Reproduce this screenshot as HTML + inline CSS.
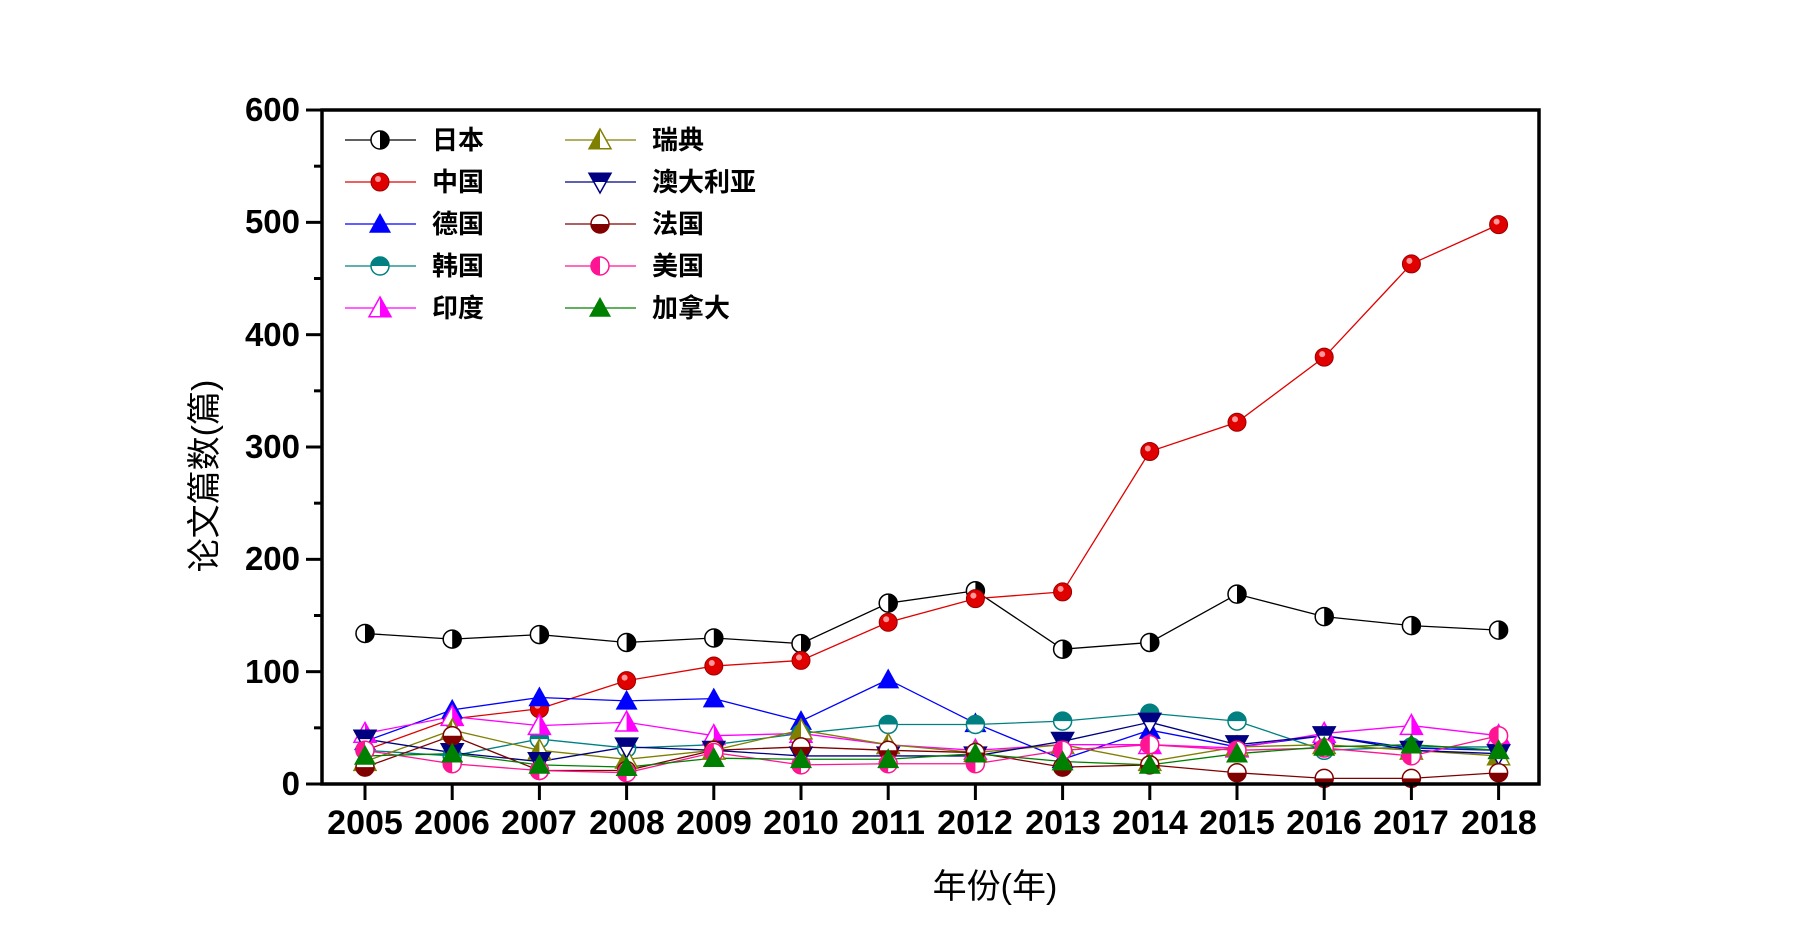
<!DOCTYPE html>
<html><head><meta charset="utf-8"><style>
html,body{margin:0;padding:0;background:#fff;width:1800px;height:945px;overflow:hidden}
svg text{font-family:"Liberation Sans","Noto Sans CJK SC",sans-serif}
</style></head><body>
<svg id="s" width="1800" height="945" xmlns="http://www.w3.org/2000/svg">
<g id="data"></g>
<rect x="322" y="110" width="1217" height="674" fill="none" stroke="#000" stroke-width="3.5"/>
<g font-size="33" font-weight="bold" text-anchor="end">
<text x="300" y="795">0</text><text x="300" y="683">100</text><text x="300" y="570">200</text><text x="300" y="458">300</text><text x="300" y="346">400</text><text x="300" y="233">500</text><text x="300" y="121">600</text>
</g>
<g font-size="34" font-weight="bold" text-anchor="middle">
<text x="365" y="834">2005</text><text x="452" y="834">2006</text><text x="539" y="834">2007</text><text x="627" y="834">2008</text><text x="714" y="834">2009</text><text x="801" y="834">2010</text><text x="888" y="834">2011</text><text x="975" y="834">2012</text><text x="1063" y="834">2013</text><text x="1150" y="834">2014</text><text x="1237" y="834">2015</text><text x="1324" y="834">2016</text><text x="1411" y="834">2017</text><text x="1499" y="834">2018</text>
</g>
<text x="995" y="898" font-size="34" text-anchor="middle" font-family="Noto Sans CJK SC, sans-serif">年份(年)</text>
<text transform="translate(216,476) rotate(-90)" font-size="34" text-anchor="middle">论文篇数(篇)</text>
<g font-size="26" font-family="Noto Serif CJK SC, serif" font-weight="bold">
<text x="432" y="149">日本</text><text x="432" y="191">中国</text><text x="432" y="233">德国</text><text x="432" y="275">韩国</text><text x="432" y="317">印度</text>
<text x="652" y="149">瑞典</text><text x="652" y="191">澳大利亚</text><text x="652" y="233">法国</text><text x="652" y="275">美国</text><text x="652" y="317">加拿大</text>
</g>
<g id="leg"></g>
</svg>
<script>
var NS="http://www.w3.org/2000/svg";
function el(p,t,a){var e=document.createElementNS(NS,t);for(var k in a)e.setAttribute(k,a[k]);p.appendChild(e);return e;}
var S=document.getElementById('s');
for(var v=0;v<=600;v+=50){var y=784-v*1.1233;var L=v%100==0?16:8;el(S,'line',{x1:322-L,x2:322,y1:y,y2:y,stroke:'#000','stroke-width':3});}
for(var i=0;i<14;i++){var x=365+i*87.2;el(S,'line',{x1:x,x2:x,y1:784,y2:800,stroke:'#000','stroke-width':3});}
var ser=[
['#000','cr',[134,129,133,126,130,125,161,172,120,126,169,149,141,137]],
['#e00000','ball',[30,58,67,92,105,110,144,165,171,296,322,380,463,498]],
['#0000ff','tf',[38,66,77,74,76,56,93,54,22,48,33,43,32,30]],
['#008080','ct',[30,25,40,32,35,45,53,53,56,63,56,30,33,33]],
['#ff00ff','tr',[45,60,52,55,43,45,35,30,35,35,32,45,52,43]],
['#808000','tl',[20,48,30,22,30,48,35,28,35,20,33,35,30,25]],
['#000080','dt',[40,28,20,33,30,25,25,25,38,55,35,43,30,27]],
['#800000','cb',[15,43,12,12,30,33,30,28,15,17,10,5,5,10]],
['#ff1493','cl',[30,18,12,10,28,17,18,18,30,35,30,32,25,43]],
['#008000','tf',[25,27,17,15,23,22,22,27,20,17,27,33,35,30]]];
function mk(g,c,t,x,y){var r=9;
 if(t[0]=='c'||t=='ball'){
  if(t=='ball'){el(g,'circle',{cx:x,cy:y,r:r,fill:c,stroke:'#900','stroke-width':1});el(g,'circle',{cx:x-2,cy:y-3,r:3,fill:'#ff9999'});return;}
  el(g,'circle',{cx:x,cy:y,r:r,fill:'#fff',stroke:c,'stroke-width':1.5});
  var d;
  if(t=='cr')d='M'+x+','+(y-r)+'A'+r+','+r+' 0 0 1 '+x+','+(y+r)+'Z';
  if(t=='cl')d='M'+x+','+(y-r)+'A'+r+','+r+' 0 0 0 '+x+','+(y+r)+'Z';
  if(t=='ct')d='M'+(x-r)+','+y+'A'+r+','+r+' 0 0 1 '+(x+r)+','+y+'Z';
  if(t=='cb')d='M'+(x-r)+','+y+'A'+r+','+r+' 0 0 0 '+(x+r)+','+y+'Z';
  el(g,'path',{d:d,fill:c});return;}
 var R=11,h=0.8*R;
 if(t=='dt'){el(g,'polygon',{points:(x-R)+','+(y-h)+' '+(x+R)+','+(y-h)+' '+x+','+(y+R),fill:'#fff',stroke:c,'stroke-width':1.5});
  el(g,'polygon',{points:(x-R)+','+(y-h)+' '+(x+R)+','+(y-h)+' '+(x+R*0.55)+','+y+' '+(x-R*0.55)+','+y,fill:c});return;}
 var P=x+','+(y-R)+' '+(x-R)+','+(y+h)+' '+(x+R)+','+(y+h);
 if(t=='tf'){el(g,'polygon',{points:P,fill:c});return;}
 el(g,'polygon',{points:P,fill:'#fff',stroke:c,'stroke-width':1.5});
 if(t=='tl')el(g,'polygon',{points:x+','+(y-R)+' '+(x-R)+','+(y+h)+' '+x+','+(y+h),fill:c});
 if(t=='tr')el(g,'polygon',{points:x+','+(y-R)+' '+(x+R)+','+(y+h)+' '+x+','+(y+h),fill:c});
}
var D=document.getElementById('data'),G=document.getElementById('leg');
ser.forEach(function(s){var pts=s[2].map(function(v,i){return [365+i*87.2,784-v*1.1233];});
 el(D,'polyline',{points:pts.map(function(p){return p.join(',')}).join(' '),fill:'none',stroke:s[0],'stroke-width':1.3});});
ser.forEach(function(s){s[2].forEach(function(v,i){mk(D,s[0],s[1],365+i*87.2,784-v*1.1233);});});
ser.forEach(function(s,k){var col=k<5?0:1,row=k%5;var x0=col?565:345,y=140+row*42;
 el(G,'line',{x1:x0,x2:x0+71,y1:y,y2:y,stroke:s[0],'stroke-width':1.3});mk(G,s[0],s[1],x0+35,y);});
</script>
</body></html>
